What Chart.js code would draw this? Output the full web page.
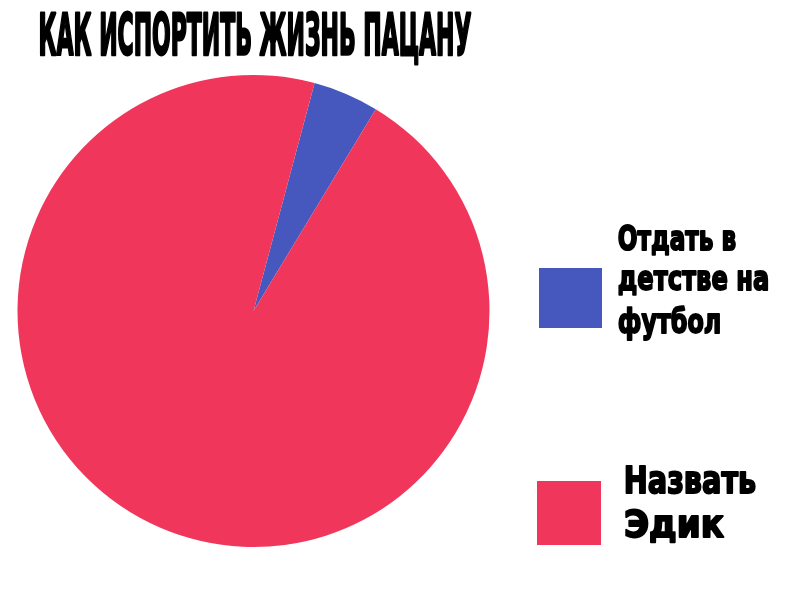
<!DOCTYPE html>
<html>
<head>
<meta charset="utf-8">
<script src="https://cdn.jsdelivr.net/npm/chart.js@4.4.1/dist/chart.umd.min.js"></script>
<style>
  html, body { margin: 0; padding: 0; background: #ffffff; }
  #wrap { position: relative; width: 800px; height: 609px; }
</style>
</head>
<body>
<div id="wrap"><canvas id="c"></canvas></div>
<script>
// ---- data ----
const chartTitle = "КАК ИСПОРТИТЬ ЖИЗНЬ ПАЦАНУ";
const categories = [
  ["Отдать в", "детстве на", "футбол"],
  ["Назвать", "Эдик"]
];
const values = [4.5, 95.5];
const colors = ["#4658be", "#f1365c"];

// Draws condensed heavy text (title + legend) as real canvas text
const condensedText = {
  id: 'condensedText',
  afterDraw(chart) {
    const ctx = chart.ctx;
    const fam = '"DejaVu Sans", "Liberation Sans", sans-serif';
    function line(text, x, baseline, size, targetW, stroke) {
      ctx.save();
      ctx.font = 'bold ' + size + 'px ' + fam;
      ctx.fillStyle = '#000';
      ctx.strokeStyle = '#000';
      ctx.lineJoin = 'round';
      ctx.textBaseline = 'alphabetic';
      ctx.textAlign = 'left';
      const w = ctx.measureText(text).width + stroke;
      const sx = targetW / w;
      ctx.translate(x + stroke * sx / 2, baseline);
      ctx.scale(sx, 1);
      ctx.lineWidth = stroke;
      ctx.strokeText(text, 0, 0);
      ctx.fillText(text, 0, 0);
      ctx.restore();
    }
    // title
    line(chartTitle, 38, 55, 57, 434, 3);

    // legend
    const meta = chart.getDatasetMeta(0);
    const boxes = [
      { x: 539, y: 268, w: 63, h: 60 },
      { x: 537, y: 481, w: 64, h: 64 }
    ];
    const textSpecs = [
      { x: 617, baselines: [250, 290, 333], size: 34, widths: [120, 153, 105] },
      { x: 623, baselines: [493, 537], size: 37, widths: [134, 102] }
    ];
    categories.forEach((lbl, i) => {
      const b = boxes[i];
      ctx.save();
      ctx.fillStyle = meta.data[i].options.backgroundColor;
      ctx.fillRect(b.x, b.y, b.w, b.h);
      ctx.restore();
      const t = textSpecs[i];
      lbl.forEach((s, j) => line(s, t.x, t.baselines[j], t.size, t.widths[j], 2));
    });
  }
};

new Chart(document.getElementById('c'), {
  type: 'pie',
  data: {
    labels: categories,
    datasets: [{
      data: values,
      backgroundColor: colors,
      borderWidth: 0
    }]
  },
  options: {
    responsive: true,
    maintainAspectRatio: false,
    animation: false,
    rotation: 15,
    layout: { padding: { left: 17, top: 75, right: 310, bottom: 62 } },
    plugins: {
      legend: { display: false },
      title: { display: false },
      tooltip: { enabled: false }
    }
  },
  plugins: [condensedText]
});
</script>
</body>
</html>
